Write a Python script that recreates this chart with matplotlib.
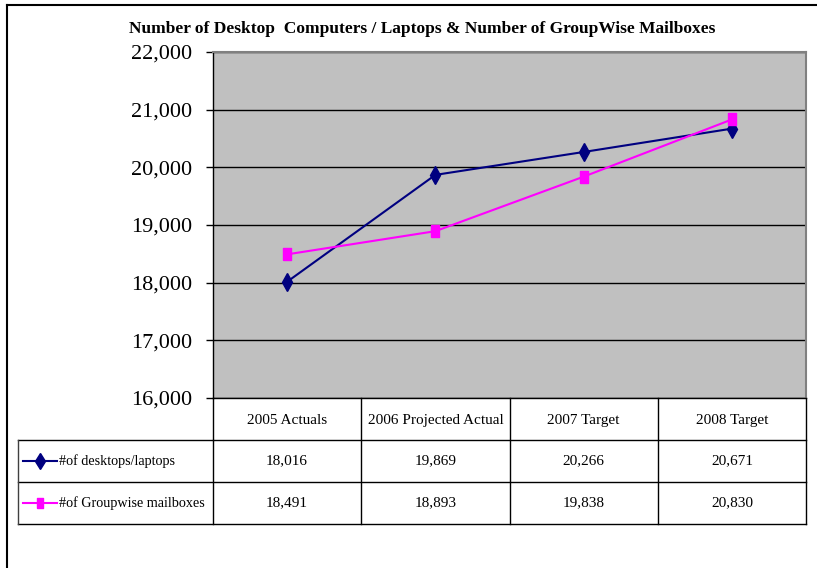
import matplotlib
matplotlib.use("Agg")
import matplotlib.pyplot as plt
from matplotlib.lines import Line2D
from matplotlib.transforms import blended_transform_factory

categories = ["2005 Actuals", "2006 Projected Actual", "2007 Target", "2008 Target"]
series_names = ["#of desktops/laptops", "#of Groupwise mailboxes"]
desktops = [18016, 19869, 20266, 20671]
mailboxes = [18491, 18893, 19838, 20830]
y_ticks = [16000, 17000, 18000, 19000, 20000, 21000, 22000]
title = "Number of Desktop  Computers / Laptops & Number of GroupWise Mailboxes"

W, H = 817, 568
plt.rcParams['font.family'] = ['Liberation Serif', 'DejaVu Serif']


def fx(px):
    return px / W


def fy(py):
    return 1 - py / H


fig = plt.figure(figsize=(W / 100, H / 100), dpi=100)

# outer frame (left and top edges visible)
fig.add_artist(Line2D([fx(7), fx(7)], [fy(5), 0], transform=fig.transFigure, color='black', lw=1.5))
fig.add_artist(Line2D([fx(7), 1], [fy(5), fy(5)], transform=fig.transFigure, color='black', lw=1.5))

fig.text(fx(422), fy(29), title, ha='center', va='center', fontsize=12.5, fontweight='bold')

ax = fig.add_axes([fx(213), fy(398), fx(806) - fx(213), fy(52) - fy(398)])
ax.set_facecolor('#c0c0c0')

rect_marker = [(-0.32, -0.5), (0.32, -0.5), (0.32, 0.5), (-0.32, 0.5), (-0.32, -0.5)]
styles = [dict(color='#000080', marker='d', markersize=9),
          dict(color='#ff00ff', marker=rect_marker, markersize=8)]
series = [desktops, mailboxes]

x = list(range(len(categories)))
for vals, st in zip(series, styles):
    ax.plot(x, vals, lw=1.5, zorder=3, clip_on=False, **st)

ax.set_xlim(-0.5, len(categories) - 0.5)
ax.set_ylim(y_ticks[0], y_ticks[-1])
ax.set_yticks(y_ticks)
ax.set_yticklabels([f"{v:,}" for v in y_ticks], fontsize=16)
ax.set_xticks([])
ax.yaxis.grid(True, color='black', lw=1)
ax.set_axisbelow(True)
ax.tick_params(axis='y', direction='out', length=5, width=1, pad=10)
for s in ['top', 'right']:
    ax.spines[s].set_color('#808080')
    ax.spines[s].set_linewidth(1.5)
ax.spines['left'].set_linewidth(1)
ax.spines['bottom'].set_linewidth(1)

# data table below the plot
tr = blended_transform_factory(ax.transData, ax.transAxes)
rh = 42 / 346
lab_left = -0.5 - 195 / 148
n = len(categories)


def tline(xs, ys, color='black'):
    ax.add_line(Line2D(xs, ys, transform=tr, color=color, lw=1, clip_on=False))


for k in range(1, 4):
    tline([lab_left if k > 1 else -0.5, n - 0.5], [-k * rh, -k * rh])
tline([lab_left, -0.5], [-rh, -rh])
for i in range(n + 1):
    tline([i - 0.5, i - 0.5], [0, -3 * rh])
tline([lab_left, lab_left], [-rh, -3 * rh], color='#404040')

for i, cat in enumerate(categories):
    ax.text(i, -rh / 2 - 0.005, cat, transform=tr, ha='center', va='center', fontsize=11)

for r, (name, vals, st) in enumerate(zip(series_names, series, styles)):
    yc = -(r + 1.5) * rh
    for i, v in enumerate(vals):
        ax.text(i, yc, f"{v:,}", transform=tr, ha='center', va='center', fontsize=11)
    ax.add_line(Line2D([lab_left + 5 / 148, lab_left + 39 / 148], [yc, yc], transform=tr,
                       lw=1.5, clip_on=False, color=st['color']))
    ax.add_line(Line2D([lab_left + 22 / 148], [yc], transform=tr, lw=0, clip_on=False,
                       color=st['color'], marker=st['marker'], markersize=st['markersize'] * 0.9))
    ax.text(lab_left + 41 / 148, yc, name, transform=tr, ha='left', va='center', fontsize=10.2)

fig.savefig('out.png', dpi=100)
